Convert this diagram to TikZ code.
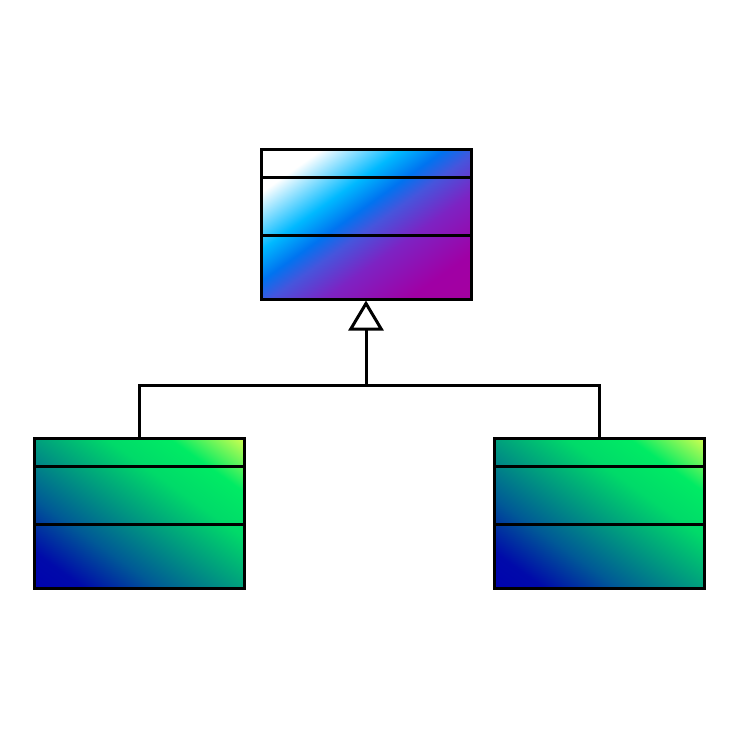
\documentclass[tikz,border=0pt]{standalone}
\usetikzlibrary{arrows.meta}
\pgfdeclarehorizontalshading{topgrad}{100bp}{%
  color(0bp)=(white); color(16.5bp)=(white);
  color(34.5bp)=(rgb,255:red,0;green,185;blue,255);
  color(44.3bp)=(rgb,255:red,0;green,115;blue,240);
  color(51.9bp)=(rgb,255:red,70;green,85;blue,220);
  color(64.1bp)=(rgb,255:red,125;green,35;blue,195);
  color(83bp)=(rgb,255:red,160;green,0;blue,165);
  color(100bp)=(rgb,255:red,165;green,0;blue,160)}
\pgfdeclarehorizontalshading{botgrad}{100bp}{%
  color(0bp)=(rgb,255:red,0;green,0;blue,175);
  color(14.2bp)=(rgb,255:red,0;green,10;blue,170);
  color(31.1bp)=(rgb,255:red,0;green,90;blue,150);
  color(50bp)=(rgb,255:red,0;green,160;blue,125);
  color(66bp)=(rgb,255:red,0;green,218;blue,105);
  color(80.2bp)=(rgb,255:red,0;green,235;blue,100);
  color(97.1bp)=(rgb,255:red,210;green,255;blue,80);
  color(100bp)=(rgb,255:red,210;green,255;blue,80)}
\newcommand\umlclassbox[5]{% name, x, y, shading, angle
  \node[boxframe] (#1) at (#2,#3) {};
  \begin{scope}
    \clip (#1.north west) rectangle (#1.south east);
    \node[gradfill, rotate=#5] (#1-fill) at (#1.center) {\pgfuseshading{#4}};
  \end{scope}
  \draw[outline] (#1.north west) rectangle (#1.south east);
  \draw[outline] ([yshift=-28pt]#1.north west) -- ([yshift=-28pt]#1.north east);
  \draw[outline] ([yshift=-86pt]#1.north west) -- ([yshift=-86pt]#1.north east);
}
\begin{document}
\begin{tikzpicture}[x=1pt,y=-1pt,
  boxframe/.style={rectangle, minimum width=210pt, minimum height=150pt, inner sep=0pt, outer sep=0pt},
  gradfill/.style={inner sep=0pt, outer sep=0pt, xscale=3.138, yscale=2.2416},
  outline/.style={line width=3pt, line join=miter},
  conn/.style={line width=3pt, line join=miter}]
\useasboundingbox (0,0) rectangle (740,740);
\umlclassbox{sup}{366}{224}{topgrad}{-45}
\umlclassbox{subl}{139}{513}{botgrad}{45}
\umlclassbox{subr}{599}{513}{botgrad}{45}
\coordinate (j) at (366,385);
\draw[conn] (subl.north) |- (j) -| (subr.north);
\draw[conn, -{Triangle[open, length=30pt, width=35pt, fill=white]}] (j) -- ([yshift=-1.5pt]sup.south);
\end{tikzpicture}
\end{document}
